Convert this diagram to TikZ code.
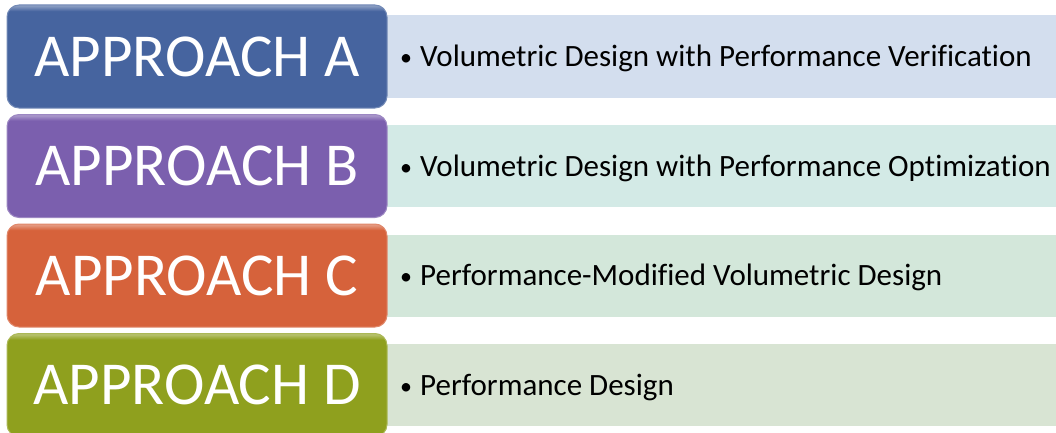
\documentclass[tikz,border=0pt]{standalone}
\usepackage{fontspec}
\setmainfont[Ligatures=NoCommon]{Carlito}
\usetikzlibrary{positioning}
\definecolor{appA}{HTML}{46649F}
\definecolor{appB}{HTML}{7B5FAE}
\definecolor{appC}{HTML}{D6623B}
\definecolor{appD}{HTML}{8FA01E}
\definecolor{barA}{HTML}{D3DEEE}
\definecolor{barB}{HTML}{D3EAE6}
\definecolor{barC}{HTML}{D3E7DA}
\definecolor{barD}{HTML}{D8E4D3}
\colorlet{mycolor}{appA}
\pgfdeclareverticalshading[mycolor]{glossy}{100bp}{color(0bp)=(mycolor); color(72bp)=(mycolor); color(74.5bp)=(mycolor!65!white); color(100bp)=(mycolor!65!white)}
\begin{document}
\begin{tikzpicture}[x=1pt, y=1pt,
  approach/.style={draw=mycolor!75!white, line width=1pt, rounded corners=12pt, shading=glossy, minimum width=380pt, minimum height=103pt, inner sep=0pt, text=white, font=\fontsize{61}{61}\selectfont},
  detail/.style={fill=#1, anchor=west, minimum width=700pt, minimum height=82pt, inner sep=0pt},
  item/.style={anchor=base west, inner sep=0pt, text=black, font=\fontsize{31}{31}\selectfont}]
\useasboundingbox (0,0) rectangle (1056,432);
\pgfmathsetlengthmacro\rowstep{109.5pt};
\foreach \n/\t [count=\i from 0] in {A/Volumetric Design with Performance Verification, B/Volumetric Design with Performance Optimization, C/Performance-Modified Volumetric Design, D/Performance Design} {
  \colorlet{mycolor}{app\n}
  \node[detail=bar\n] (bar\n) at (375,375.5-\i*\rowstep) {};
  \node[item] (txt\n) at ([xshift=25pt,yshift=-10pt]bar\n.west) {\raisebox{1pt}{\fontsize{24}{24}\selectfont\textbullet}\hspace{8pt}\t};
  \node[approach] (app\n) at (197,375.5-\i*\rowstep) {APPROACH \n};
}
\end{tikzpicture}
\end{document}
